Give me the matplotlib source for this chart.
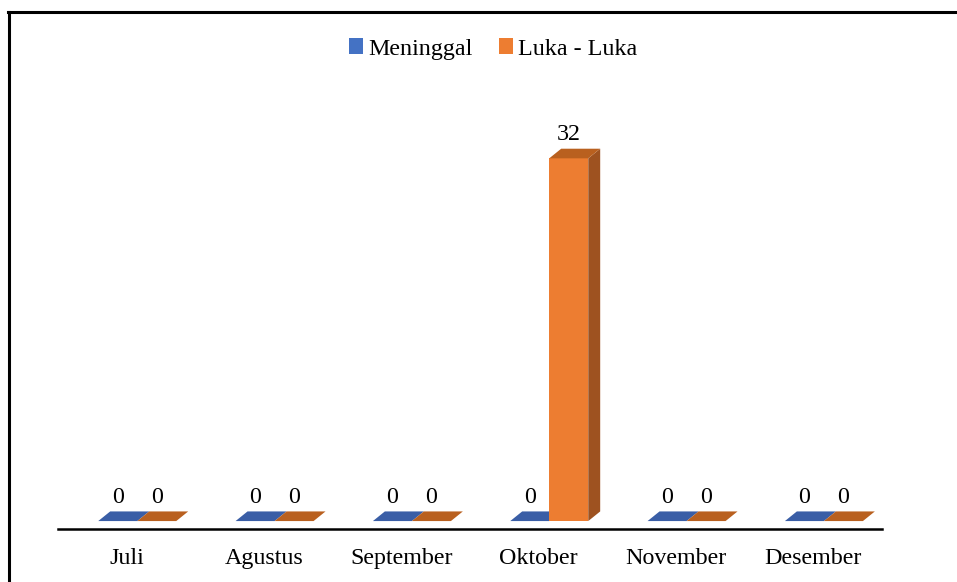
import matplotlib
matplotlib.use('Agg')
import matplotlib.pyplot as plt
from matplotlib.patches import Polygon, Patch
from matplotlib.lines import Line2D
import numpy as np

# data
bulan = ['Juli', 'Agustus', 'September', 'Oktober', 'November', 'Desember']
meninggal = [0, 0, 0, 0, 0, 0]
luka_luka = [0, 0, 0, 32, 0, 0]

# colours (front, top, side)
warna = {
    'Meninggal': ('#4472C4', '#3A5EA6', '#2F4F8C'),
    'Luka - Luka': ('#ED7D31', '#B9601F', '#9E5220'),
}

plt.rcParams['font.family'] = ['Liberation Serif', 'DejaVu Serif']
fs = 17.3

fig = plt.figure(figsize=(9.57, 5.82), dpi=100)
ax = fig.add_axes([58 / 957, 53 / 582, 824 / 957, 416 / 582])

bar_w = 0.284
shift = 0.077
dx, dy = 0.087, 0.85   # fake 3D depth

def draw_bar(x0, h, col):
    front, top, side = col
    x1 = x0 + bar_w
    if h > 0:
        ax.add_patch(Polygon([(x0, 0), (x1, 0), (x1, h), (x0, h)], closed=True,
                             facecolor=front, edgecolor='none'))
        ax.add_patch(Polygon([(x1, 0), (x1 + dx, dy), (x1 + dx, h + dy), (x1, h)], closed=True,
                             facecolor=side, edgecolor='none'))
    ax.add_patch(Polygon([(x0, h), (x1, h), (x1 + dx, h + dy), (x0 + dx, h + dy)], closed=True,
                         facecolor=top, edgecolor='none'))
    ax.text(x0 + bar_w / 2, h + 2.1, str(h), ha='center', va='center', fontsize=fs, color='black')

x = np.arange(len(bulan))
for i in x:
    draw_bar(i + shift - bar_w, meninggal[i], warna['Meninggal'])
    draw_bar(i + shift, luka_luka[i], warna['Luka - Luka'])

ax.set_xlim(-0.5, 5.5)
ax.set_ylim(-0.7, 36)
ax.set_xticks(x)
ax.set_xticklabels(bulan, fontsize=fs)
ax.tick_params(axis='x', length=0, pad=14)
ax.set_yticks([])
for s in ['top', 'left', 'right']:
    ax.spines[s].set_visible(False)
ax.spines['bottom'].set_linewidth(1.8)
ax.spines['bottom'].set_color('black')

# legend
handles = [Patch(facecolor=warna[k][0], edgecolor='none', label=k) for k in warna]
fig.legend(handles=handles, loc='center', bbox_to_anchor=(493 / 957, 1 - 49 / 582), ncol=2,
           frameon=False, fontsize=fs, handlelength=0.6, handleheight=0.6,
           handletextpad=0.2, columnspacing=1.1)

# outer frame (left and top only visible)
fig.add_artist(Line2D([9 / 957, 9 / 957], [0, 1 - 12 / 582], color='black', linewidth=2.2))
fig.add_artist(Line2D([8 / 957, 1], [1 - 12 / 582, 1 - 12 / 582], color='black', linewidth=2.2))

fig.savefig('out.png', dpi=100)
